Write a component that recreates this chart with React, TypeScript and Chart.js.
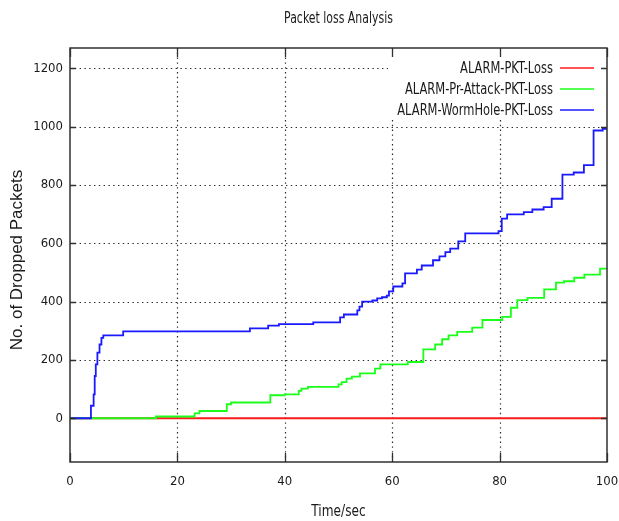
import React, { useEffect, useRef } from "react";
import { Chart, registerables } from "chart.js";

Chart.register(...registerables);

const chartTitle = "Packet loss Analysis";
const xAxisTitle = "Time/sec";
const yAxisTitle = "No. of Dropped Packets";

const seriesLabels = ["ALARM-PKT-Loss", "ALARM-Pr-Attack-PKT-Loss", "ALARM-WormHole-PKT-Loss"];
const seriesColors = ["#ff1a1a", "#1aff1a", "#1a1aff"];

const xTicks = [0, 20, 40, 60, 80, 100];
const yTicks = [0, 200, 400, 600, 800, 1000, 1200];
const xMin = 0;
const xMax = 100;
const yMin = -150;
const yMax = 1270;

// ALARM-PKT-Loss (red)
const alarmTime = [0, 100];
const alarmLoss = [0, 0];

// ALARM-Pr-Attack-PKT-Loss (green)
const attackTime = [0, 16, 23.2, 24.1, 29.2, 30, 37.3, 40, 42.6, 43.1, 44.3, 50, 50.6, 51.5, 52.5, 54, 56.8, 57.8, 62.9, 65.8, 68, 69.3, 70.5, 72.1, 74.9, 76.8, 80.5, 82.1, 83.3, 85.2, 88.3, 90.5, 92, 93.9, 95.8, 98.7, 100];
const attackLoss = [0, 6, 17, 25, 48, 54, 79, 82, 94, 102, 108, 116, 124, 136, 143, 154, 170, 185, 193, 236, 253, 271, 284, 296, 311, 337, 348, 379, 405, 413, 442, 465, 470, 482, 493, 513, 513];

// ALARM-WormHole-PKT-Loss (blue)
const wormTime = [0, 3.9, 4.4, 4.6, 4.8, 5.1, 5.5, 5.85, 6.2, 9.9, 33.5, 36.9, 38.9, 45.3, 50.3, 51, 53.5, 53.9, 54.4, 56.3, 57.2, 58.1, 59, 59.4, 60.2, 61.9, 62.4, 64.6, 65.5, 67.6, 68.8, 69.9, 70.8, 72.3, 73.6, 79.8, 80.4, 81.4, 84.5, 86.1, 88.2, 89.7, 91.7, 93.8, 95.7, 97.5, 99.2, 100];
const wormLoss = [0, 43, 82, 145, 185, 225, 253, 276, 284, 298, 308, 318, 323, 329, 346, 356, 370, 383, 400, 404, 411, 415, 421, 435, 452, 463, 497, 510, 524, 542, 555, 570, 582, 607, 634, 642, 685, 699, 707, 716, 724, 753, 836, 843, 868, 987, 993, 993];

const NARROW = "'DejaVu Sans Condensed', 'Liberation Sans', sans-serif";
const WIDE = "'Liberation Sans', Arial, sans-serif";

const toPoints = (xs: number[], ys: number[]) => xs.map((x, i) => ({ x, y: ys[i] }));

// draw text squeezed horizontally (tall, narrow look of the original)
function squeezedText(ctx: CanvasRenderingContext2D, text: string, x: number, y: number, sx: number) {
  ctx.save();
  ctx.translate(x, y);
  ctx.scale(sx, 1);
  ctx.fillText(text, 0, 0);
  ctx.restore();
}

const decorPlugin = {
  id: "gnuplotDecor",
  beforeDatasetsDraw(chart: any) {
    const { ctx, chartArea: a, scales } = chart;
    const x = scales.x;
    const y = scales.y;
    ctx.save();
    ctx.strokeStyle = "#2a2a2a";
    ctx.lineWidth = 1.2;
    ctx.setLineDash([1.4, 3.4]);
    for (const v of xTicks) {
      if (v === xMin || v === xMax) continue;
      const px = Math.round(x.getPixelForValue(v)) + 0.5;
      ctx.beginPath();
      ctx.moveTo(px, a.top);
      ctx.lineTo(px, a.bottom);
      ctx.stroke();
    }
    for (const v of yTicks) {
      const py = Math.round(y.getPixelForValue(v)) + 0.5;
      ctx.beginPath();
      ctx.moveTo(a.left, py);
      ctx.lineTo(a.right, py);
      ctx.stroke();
    }
    ctx.restore();
  },
  afterDatasetsDraw(chart: any) {
    const { ctx, chartArea: a, scales } = chart;
    const x = scales.x;
    const y = scales.y;
    ctx.save();
    // legend (key) box, opaque
    const keyLeft = 388;
    const keyTop = a.top + 1;
    const keyBottom = 118;
    ctx.fillStyle = "#ffffff";
    ctx.fillRect(keyLeft, keyTop, a.right - keyLeft - 1, keyBottom - keyTop);
    ctx.font = `15px ${NARROW}`;
    ctx.textAlign = "right";
    ctx.textBaseline = "middle";
    const rowY = [69, 90, 111];
    seriesLabels.forEach((lab, i) => {
      ctx.fillStyle = "#1a1a1a";
      squeezedText(ctx, lab, 553, rowY[i], 0.85);
      ctx.strokeStyle = seriesColors[i];
      ctx.lineWidth = 1.6;
      ctx.beginPath();
      ctx.moveTo(560, rowY[i] - 1);
      ctx.lineTo(594, rowY[i] - 1);
      ctx.stroke();
    });

    // frame
    ctx.strokeStyle = "#303030";
    ctx.lineWidth = 1.5;
    ctx.strokeRect(a.left, a.top, a.right - a.left, a.bottom - a.top);

    // inward ticks on all four sides
    ctx.lineWidth = 1.3;
    for (const v of xTicks) {
      const px = Math.round(x.getPixelForValue(v)) + 0.5;
      ctx.beginPath();
      ctx.moveTo(px, a.bottom);
      ctx.lineTo(px, a.bottom - 9);
      ctx.moveTo(px, a.top);
      ctx.lineTo(px, a.top + 9);
      ctx.stroke();
    }
    for (const v of yTicks) {
      const py = Math.round(y.getPixelForValue(v)) + 0.5;
      ctx.beginPath();
      ctx.moveTo(a.left, py);
      ctx.lineTo(a.left + 6, py);
      ctx.moveTo(a.right, py);
      ctx.lineTo(a.right - 6, py);
      ctx.stroke();
    }

    // titles
    const cx = (a.left + a.right) / 2;
    ctx.fillStyle = "#1a1a1a";
    ctx.textAlign = "center";
    ctx.textBaseline = "middle";
    ctx.font = `15px ${NARROW}`;
    squeezedText(ctx, chartTitle, cx, 19, 0.81);
    ctx.font = `15px ${NARROW}`;
    squeezedText(ctx, xAxisTitle, cx, 512, 0.9);
    ctx.save();
    ctx.translate(17, 260);
    ctx.rotate(-Math.PI / 2);
    ctx.font = `17px ${WIDE}`;
    ctx.fillText(yAxisTitle, 0, 0);
    ctx.restore();
    ctx.restore();
  },
};

export default function App() {
  const canvasRef = useRef<HTMLCanvasElement | null>(null);

  useEffect(() => {
    const canvas = canvasRef.current;
    if (!canvas) return;
    const tickFont = { family: NARROW, size: 13 };
    const chart = new Chart(canvas, {
      type: "line",
      data: {
        datasets: [
          {
            label: seriesLabels[0],
            data: toPoints(alarmTime, alarmLoss),
            borderColor: seriesColors[0],
            borderWidth: 1.8,
            pointRadius: 0,
            stepped: true,
            fill: false,
            order: 3,
          },
          {
            label: seriesLabels[1],
            data: toPoints(attackTime, attackLoss),
            borderColor: seriesColors[1],
            borderWidth: 1.8,
            pointRadius: 0,
            stepped: true,
            fill: false,
            order: 2,
          },
          {
            label: seriesLabels[2],
            data: toPoints(wormTime, wormLoss),
            borderColor: seriesColors[2],
            borderWidth: 1.8,
            pointRadius: 0,
            stepped: true,
            fill: false,
            order: 1,
          },
        ],
      },
      options: {
        responsive: false,
        maintainAspectRatio: false,
        animation: false,
        layout: { padding: { left: 0, right: 12, top: 48, bottom: 0 } },
        plugins: {
          legend: { display: false },
          title: { display: false },
          tooltip: { enabled: false },
        },
        scales: {
          x: {
            type: "linear",
            min: xMin,
            max: xMax,
            afterBuildTicks: (s: any) => {
              s.ticks = xTicks.map((v) => ({ value: v }));
            },
            ticks: {
              font: tickFont,
              color: "#1a1a1a",
              padding: 12,
              maxRotation: 0,
              autoSkip: false,
              callback: (v: any) => String(v),
            },
            grid: { display: false, drawTicks: false },
            border: { display: false },
            afterFit: (s: any) => {
              s.height = 59;
              s.paddingLeft = 0;
              s.paddingRight = 0;
            },
          },
          y: {
            type: "linear",
            min: yMin,
            max: yMax,
            afterBuildTicks: (s: any) => {
              s.ticks = yTicks.map((v) => ({ value: v }));
            },
            ticks: {
              font: tickFont,
              color: "#1a1a1a",
              padding: 7,
              autoSkip: false,
              callback: (v: any) => String(v),
            },
            grid: { display: false, drawTicks: false },
            border: { display: false },
            afterFit: (s: any) => {
              s.width = 70;
              s.paddingTop = 0;
              s.paddingBottom = 0;
            },
          },
        },
      },
      plugins: [decorPlugin],
    });
    return () => chart.destroy();
  }, []);

  return (
    <div style={{ position: "absolute", left: 0, top: 0, width: 619, height: 521, background: "#fff" }}>
      <canvas ref={canvasRef} width={619} height={521} style={{ width: 619, height: 521, display: "block" }} />
    </div>
  );
}
